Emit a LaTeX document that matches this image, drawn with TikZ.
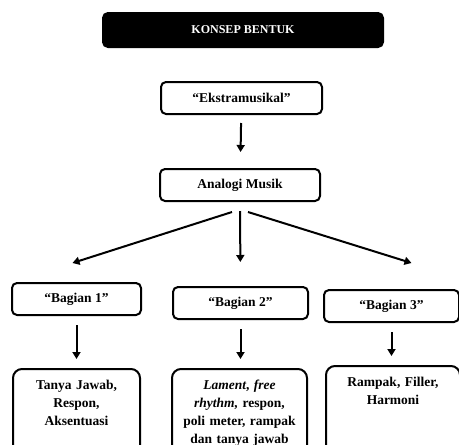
\documentclass[tikz,border=0pt]{standalone}
\usepackage{fontspec}
\setmainfont{Liberation Serif}
\usetikzlibrary{arrows.meta}
\begin{document}
\begin{tikzpicture}[x=1pt,y=-1pt,
    box/.style={draw=black, line width=2pt, rounded corners=5pt, minimum height=32pt, inner sep=0pt, font=\fontsize{13.5}{18}\selectfont\bfseries},
    outbox/.style={draw=black, line width=2pt, rounded corners=9pt, anchor=north, align=center, inner xsep=4pt, inner ysep=11pt, text depth=80pt, font=\fontsize{13.5}{18}\selectfont\bfseries},
    arr/.style={draw=black, line width=2pt, -{Triangle[length=7pt,width=8pt]}}]
    \useasboundingbox (0,0) rectangle (459,445);
    \node[box, fill=black, text=white, minimum width=280pt, minimum height=34pt, font=\fontsize{12}{14}\selectfont\bfseries] (judul) at (243,30) {KONSEP BENTUK};
    \node[box, minimum width=161pt] (ekstra) at (241.5,98) {“Ekstramusikal”};
    \node[box, minimum width=160pt] (analogi) at (240,185) {Analogi Musik};
    \node[box, minimum width=129pt] (bag1) at (76.5,299) {“Bagian 1”};
    \node[box, minimum width=135pt] (bag2) at (240.5,303) {“Bagian 2”};
    \node[box, minimum width=135pt] (bag3) at (391.5,306) {“Bagian 3”};
    \node[outbox, text width=119pt] (isi1) at (76.5,368) {Tanya Jawab,\\ Respon,\\ Aksentuasi};
    \node[outbox, text width=127pt] (isi2) at (239.5,368) {\textit{Lament}, \textit{free}\\ \textit{rhythm,} respon,\\ poli meter, rampak\\ dan tanya jawab};
    \node[outbox, text width=126pt] (isi3) at (393,365) {Rampak, Filler,\\ Harmoni};
    % panah
    \draw[arr, shorten <=8pt, shorten >=16pt] (ekstra) -- (analogi);
    \draw[arr] ([xshift=-8pt,yshift=-10pt]analogi.south) -- ([xshift=-4pt,yshift=19pt]bag1.north);
    \draw[arr, shorten <=9pt, shorten >=24pt] (analogi) -- (bag2);
    \draw[arr] ([xshift=8pt,yshift=-10pt]analogi.south) -- ([xshift=20pt,yshift=26pt]bag3.north);
    \foreach \i in {1,2,3}
        \draw[arr, shorten <=9pt, shorten >=9pt] (bag\i.south) -- (bag\i.south |- isi\i.north);
\end{tikzpicture}
\end{document}
